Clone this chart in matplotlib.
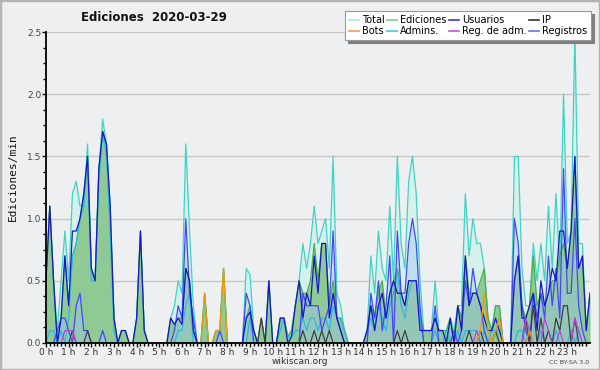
import numpy as np
import matplotlib
matplotlib.use("Agg")
import matplotlib.pyplot as plt
from matplotlib.lines import Line2D
from matplotlib.patches import Rectangle

# values every 10 minutes, 0 h .. 24 h (145 points)
total = [0.5, 1.1, 0.5, 0.1, 0.5, 0.9,
         0.5, 1.2, 1.3, 1.1, 1.1, 1.6,
         0.6, 0.5, 1.4, 1.8, 1.6, 1.1,
         0.2, 0.0, 0.1, 0.1, 0.0, 0.0,
         0.2, 0.9, 0.1, 0.0, 0.0, 0.0,
         0.0, 0.0, 0.0, 0.2, 0.3, 0.5,
         0.4, 1.6, 0.9, 0.3, 0.0, 0.0,
         0.4, 0.0, 0.0, 0.1, 0.1, 0.6,
         0.0, 0.0, 0.0, 0.0, 0.0, 0.6,
         0.55, 0.1, 0.0, 0.2, 0.0, 0.5,
         0.0, 0.0, 0.2, 0.2, 0.05, 0.1,
         0.3, 0.5, 0.8, 0.6, 0.8, 1.1,
         0.8, 0.9, 1.0, 0.6, 1.5, 0.4,
         0.3, 0.1, 0.0, 0.0, 0.0, 0.0,
         0.0, 0.1, 0.7, 0.4, 0.9, 0.6,
         0.5, 1.1, 0.5, 1.5, 0.8, 0.6,
         1.3, 1.5, 1.2, 0.5, 0.1, 0.1,
         0.1, 0.5, 0.1, 0.1, 0.1, 0.2,
         0.1, 0.3, 0.3, 1.2, 0.7, 1.0,
         0.8, 0.8, 0.6, 0.2, 0.1, 0.3,
         0.3, 0.0, 0.0, 0.0, 1.5, 1.5,
         0.6, 0.3, 0.3, 0.8, 0.5, 0.8,
         0.5, 1.1, 0.6, 1.2, 0.6, 2.0,
         0.8, 0.9, 2.5, 0.8, 0.8, 0.1, 0.4]
ediciones = [0.5, 1.1, 0.5, 0.0, 0.2, 0.7,
             0.3, 0.7, 0.8, 1.0, 1.2, 1.5,
             0.6, 0.5, 1.4, 1.7, 1.6, 1.0,
             0.2, 0.0, 0.1, 0.1, 0.0, 0.0,
             0.2, 0.9, 0.1, 0.0, 0.0, 0.0,
             0.0, 0.0, 0.0, 0.2, 0.15, 0.2,
             0.2, 0.6, 0.5, 0.1, 0.0, 0.0,
             0.4, 0.0, 0.0, 0.1, 0.1, 0.6,
             0.0, 0.0, 0.0, 0.0, 0.0, 0.2,
             0.3, 0.1, 0.0, 0.2, 0.0, 0.5,
             0.0, 0.0, 0.2, 0.2, 0.05, 0.1,
             0.3, 0.5, 0.4, 0.4, 0.5, 0.8,
             0.5, 0.8, 0.8, 0.3, 0.5, 0.2,
             0.2, 0.1, 0.0, 0.0, 0.0, 0.0,
             0.0, 0.1, 0.3, 0.2, 0.4, 0.5,
             0.2, 0.4, 0.5, 0.6, 0.4, 0.3,
             0.5, 0.5, 0.5, 0.2, 0.1, 0.1,
             0.1, 0.2, 0.1, 0.1, 0.1, 0.2,
             0.0, 0.3, 0.2, 0.7, 0.4, 0.4,
             0.4, 0.5, 0.6, 0.2, 0.1, 0.3,
             0.3, 0.0, 0.0, 0.0, 0.5, 0.7,
             0.3, 0.2, 0.3, 0.7, 0.3, 0.4,
             0.3, 0.4, 0.5, 0.5, 0.7, 0.8,
             0.6, 0.9, 1.5, 0.6, 0.7, 0.1, 0.4]
usuarios = [0.5, 1.1, 0.5, 0.0, 0.2, 0.7,
            0.3, 0.9, 0.9, 1.0, 1.2, 1.5,
            0.6, 0.5, 1.4, 1.7, 1.6, 1.1,
            0.2, 0.0, 0.1, 0.1, 0.0, 0.0,
            0.2, 0.9, 0.1, 0.0, 0.0, 0.0,
            0.0, 0.0, 0.0, 0.2, 0.15, 0.2,
            0.15, 0.6, 0.5, 0.1, 0.0, 0.0,
            0.0, 0.0, 0.0, 0.0, 0.0, 0.0,
            0.0, 0.0, 0.0, 0.0, 0.0, 0.2,
            0.25, 0.1, 0.0, 0.0, 0.0, 0.5,
            0.0, 0.0, 0.2, 0.2, 0.0, 0.05,
            0.3, 0.5, 0.2, 0.4, 0.3, 0.7,
            0.4, 0.8, 0.8, 0.2, 0.4, 0.2,
            0.1, 0.0, 0.0, 0.0, 0.0, 0.0,
            0.0, 0.1, 0.3, 0.1, 0.3, 0.4,
            0.2, 0.4, 0.5, 0.4, 0.4, 0.3,
            0.5, 0.5, 0.5, 0.1, 0.1, 0.1,
            0.1, 0.2, 0.1, 0.1, 0.0, 0.2,
            0.0, 0.3, 0.1, 0.7, 0.3, 0.4,
            0.4, 0.3, 0.2, 0.1, 0.1, 0.2,
            0.1, 0.0, 0.0, 0.0, 0.5, 0.7,
            0.2, 0.2, 0.3, 0.4, 0.1, 0.5,
            0.3, 0.4, 0.6, 0.5, 0.9, 0.9,
            0.6, 0.9, 1.5, 0.6, 0.7, 0.1, 0.4]
ip = [0.0, 0.0, 0.0, 0.0, 0.0, 0.0,
      0.0, 0.1, 0.0, 0.0, 0.0, 0.1,
      0.0, 0.0, 0.0, 0.0, 0.0, 0.0,
      0.0, 0.0, 0.0, 0.0, 0.0, 0.0,
      0.0, 0.0, 0.0, 0.0, 0.0, 0.0,
      0.0, 0.0, 0.0, 0.0, 0.0, 0.0,
      0.0, 0.0, 0.0, 0.0, 0.0, 0.0,
      0.0, 0.0, 0.0, 0.0, 0.0, 0.0,
      0.0, 0.0, 0.0, 0.0, 0.0, 0.0,
      0.0, 0.0, 0.0, 0.2, 0.0, 0.0,
      0.0, 0.0, 0.0, 0.0, 0.0, 0.0,
      0.0, 0.0, 0.1, 0.0, 0.0, 0.1,
      0.0, 0.1, 0.0, 0.1, 0.0, 0.0,
      0.0, 0.0, 0.0, 0.0, 0.0, 0.0,
      0.0, 0.0, 0.0, 0.0, 0.0, 0.0,
      0.0, 0.0, 0.0, 0.1, 0.0, 0.1,
      0.0, 0.0, 0.0, 0.0, 0.0, 0.0,
      0.0, 0.0, 0.0, 0.0, 0.0, 0.0,
      0.0, 0.0, 0.0, 0.0, 0.1, 0.0,
      0.0, 0.1, 0.0, 0.0, 0.0, 0.1,
      0.0, 0.0, 0.0, 0.0, 0.0, 0.0,
      0.0, 0.2, 0.0, 0.3, 0.0, 0.2,
      0.0, 0.1, 0.0, 0.2, 0.1, 0.3,
      0.3, 0.0, 0.2, 0.0, 0.0, 0.0, 0.0]
bots = [0.0] * 42 + [0.4, 0.0, 0.0, 0.1, 0.1, 0.6] + [0.0] * 67 + \
       [0.1, 0.4, 0.1, 0.0, 0.1, 0.2] + [0.0] * 7 + [0.1] + [0.0] * 16
admins = [0.0, 0.1, 0.1, 0.0, 0.1, 0.0,
          0.2, 0.7, 0.8, 1.0, 1.1, 1.5,
          0.5, 0.5, 1.3, 1.7, 1.5, 0.9,
          0.1, 0.0, 0.0, 0.0, 0.0, 0.0,
          0.0, 0.0, 0.0, 0.0, 0.0, 0.0,
          0.0, 0.0, 0.0, 0.0, 0.0, 0.1,
          0.1, 0.3, 0.4, 0.0, 0.0, 0.0,
          0.0, 0.0, 0.0, 0.0, 0.0, 0.0,
          0.0, 0.0, 0.0, 0.0, 0.0, 0.0,
          0.2, 0.0, 0.0, 0.0, 0.0, 0.0,
          0.0, 0.0, 0.1, 0.2, 0.05, 0.05,
          0.1, 0.1, 0.2, 0.1, 0.2, 0.2,
          0.1, 0.2, 0.2, 0.1, 0.3, 0.2,
          0.2, 0.1, 0.0, 0.0, 0.0, 0.0,
          0.0, 0.1, 0.2, 0.1, 0.3, 0.2,
          0.1, 0.3, 0.4, 0.6, 0.3, 0.2,
          0.4, 0.5, 0.5, 0.2, 0.0, 0.0,
          0.0, 0.1, 0.0, 0.0, 0.1, 0.0,
          0.0, 0.1, 0.0, 0.1, 0.1, 0.1,
          0.1, 0.0, 0.1, 0.0, 0.1, 0.1,
          0.1, 0.0, 0.0, 0.0, 0.0, 0.1,
          0.1, 0.0, 0.1, 0.0, 0.0, 0.1,
          0.0, 0.1, 0.0, 0.1, 0.0, 0.0,
          0.0, 0.1, 0.0, 0.1, 0.0, 0.0, 0.0]
reg_adm = [0.0] * 5 + [0.1, 0.1, 0.1] + [0.0] * 106 + [0.1] + [0.0] * 12 + \
          [0.2, 0.1, 0.0, 0.0, 0.0, 0.2, 0.1, 0.0, 0.0, 0.1, 0.0,
           0.0, 0.0, 0.2, 0.1, 0.0, 0.0, 0.0]
registros = [0.0, 0.0, 0.0, 0.1, 0.2, 0.2,
             0.1, 0.0, 0.3, 0.4, 0.1, 0.1,
             0.0, 0.0, 0.0, 0.1, 0.0, 0.0,
             0.0, 0.0, 0.0, 0.0, 0.0, 0.0,
             0.0, 0.0, 0.0, 0.0, 0.0, 0.0,
             0.0, 0.0, 0.0, 0.0, 0.1, 0.3,
             0.2, 1.0, 0.4, 0.2, 0.0, 0.0,
             0.0, 0.0, 0.0, 0.0, 0.1, 0.0,
             0.0, 0.0, 0.0, 0.0, 0.0, 0.4,
             0.3, 0.0, 0.0, 0.0, 0.0, 0.0,
             0.0, 0.0, 0.0, 0.0, 0.0, 0.0,
             0.0, 0.0, 0.4, 0.3, 0.3, 0.3,
             0.3, 0.1, 0.2, 0.3, 0.9, 0.2,
             0.1, 0.0, 0.0, 0.0, 0.0, 0.0,
             0.0, 0.0, 0.4, 0.2, 0.5, 0.1,
             0.3, 0.7, 0.0, 0.9, 0.4, 0.4,
             0.8, 1.0, 0.8, 0.3, 0.0, 0.0,
             0.0, 0.3, 0.0, 0.0, 0.0, 0.0,
             0.1, 0.0, 0.1, 0.5, 0.3, 0.6,
             0.4, 0.3, 0.1, 0.0, 0.0, 0.0,
             0.0, 0.0, 0.0, 0.0, 1.0, 0.8,
             0.3, 0.1, 0.0, 0.4, 0.2, 0.4,
             0.2, 0.7, 0.3, 0.6, 0.2, 1.4,
             0.4, 0.4, 1.0, 0.3, 0.1, 0.0, 0.0]

hours = np.arange(len(total)) / 6.0
hour_labels = [f"{h} h" for h in range(24)]

bg = "#eeeff1"
fig = plt.figure(figsize=(6, 3.7), dpi=100, facecolor=bg)
fig.patches.append(Rectangle((0, 0), 1, 1, transform=fig.transFigure,
                             fill=False, edgecolor="#b4b4b4", lw=2.5))
ax = fig.add_axes([46 / 600, 27 / 370, 544 / 600, 311 / 370], facecolor=bg)

lw = 0.9
ax.fill_between(hours, total, color="#d6f1ec", lw=0)
ax.fill_between(hours, ediciones, color="#8fca94", lw=0)
ax.fill_between(hours, registros, color="#a0c4f0", alpha=0.4, lw=0)
ax.plot(hours, total, color="#3dd4c4", lw=lw)
ax.plot(hours, ediciones, color="#46b046", lw=lw)
ax.plot(hours, admins, color="#2cb8e2", lw=lw)
ax.plot(hours, registros, color="#4646ff", lw=lw)
ax.plot(hours, usuarios, color="#1616cc", lw=lw)
ax.plot(hours, ip, color="#404040", lw=lw)
ax.plot(hours, reg_adm, color="#c040e0", lw=lw)
ax.plot(hours, bots, color="#f09a10", lw=lw)

ax.set_xlim(0, 24)
ax.set_ylim(0, 2.5)
ax.set_xticks(range(24))
ax.set_xticklabels(hour_labels)
ax.set_xticks(np.arange(0, 24, 1 / 6), minor=True)
ax.set_yticks(np.arange(0, 2.51, 0.5))
ax.set_yticklabels([f"{v:.1f}" for v in np.arange(0, 2.51, 0.5)])
ax.set_yticks(np.arange(0, 2.51, 0.125), minor=True)
ax.tick_params(axis="both", which="major", length=3, width=1, labelsize=6.5,
               pad=0.5)
ax.tick_params(axis="both", which="minor", length=2, width=1)
ax.tick_params(axis="x", colors="#111111", labelcolor="#333333")
ax.tick_params(axis="y", colors="#111111", labelcolor="#444444")
for s in ("top", "right"):
    ax.spines[s].set_visible(False)
for s in ("left", "bottom"):
    ax.spines[s].set_linewidth(1.3)
    ax.spines[s].set_color("#000000")
ax.grid(axis="y", which="major", color="#c8c8c8", lw=1)
ax.set_axisbelow(True)

fig.text(0.256, 0.954, "Ediciones  2020-03-29", ha="center", va="center",
         fontsize=8.5, fontweight="bold", color="#111111")
fig.text(0.022, 0.52, "Ediciones/min", rotation=90, ha="center", va="center",
         fontsize=8, family="DejaVu Sans Mono", color="#111111")
fig.text(0.5, 0.022, "wikiscan.org", ha="center", va="center",
         fontsize=6.5, color="#333333")
fig.text(0.982, 0.02, "CC BY-SA 3.0", ha="right", va="center",
         fontsize=4.5, color="#444444")

handles = [
    Line2D([], [], color="#a8e8e0", lw=1.2, label="Total"),
    Line2D([], [], color="#f0a040", lw=1.2, label="Bots"),
    Line2D([], [], color="#80d080", lw=1.2, label="Ediciones"),
    Line2D([], [], color="#40c8e0", lw=1.2, label="Admins."),
    Line2D([], [], color="#3a3ad8", lw=1.2, label="Usuarios"),
    Line2D([], [], color="#d050e0", lw=1.2, label="Reg. de adm."),
    Line2D([], [], color="#303030", lw=1.2, label="IP"),
    Line2D([], [], color="#7070f0", lw=1.2, label="Registros"),
]
leg = fig.legend(handles=handles, ncol=4, loc="upper right",
                 bbox_to_anchor=(0.985, 0.97), fontsize=7.0, frameon=True,
                 fancybox=False, shadow={"color": "#808080", "alpha": 1},
                 edgecolor="#999999", framealpha=1, handlelength=1.0,
                 handletextpad=0.3, columnspacing=0.3, borderpad=0.4,
                 labelspacing=0.15, borderaxespad=0)
leg.get_frame().set_linewidth(0.8)

fig.savefig("out.png", dpi=100, facecolor=bg)
